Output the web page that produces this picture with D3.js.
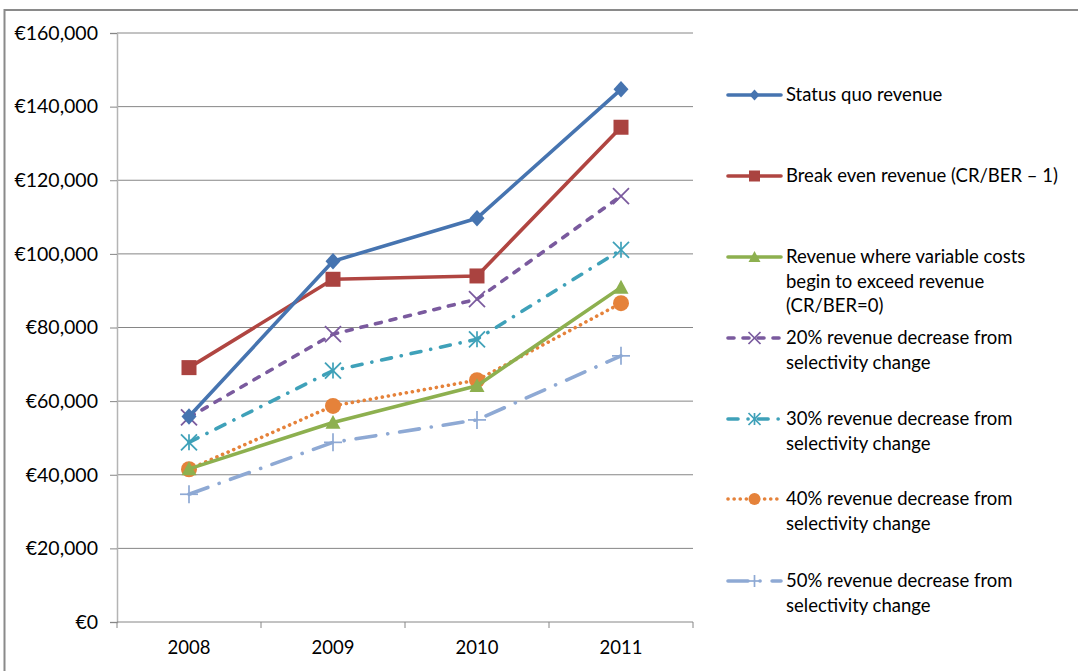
<!DOCTYPE html>
<html>
<head>
<meta charset="utf-8">
<script src="https://cdn.jsdelivr.net/npm/d3@7"></script>
<style>
  html, body { margin: 0; padding: 0; background: #fff; }
  svg text { font-family: Lato, "Open Sans", sans-serif; fill: #000; }
</style>
</head>
<body>
<svg id="chart" width="1078" height="671"></svg>
<script>
// Years on the category axis
const years = ["2008", "2009", "2010", "2011"];

// Revenue series (euro)
const statusQuo      = [55800, 98000, 109700, 144700];
const breakEven      = [69100, 93100, 94000, 134400];
const variableCosts  = [41600, 54200, 64200, 90900];
const decrease20     = [55600, 78200, 87700, 115700];
const decrease30     = [48800, 68300, 76800, 101100];
const decrease40     = [41500, 58700, 65700, 86600];
const decrease50     = [34700, 48800, 54900, 72300];

// Value-axis ticks
const yTicks = [0, 20000, 40000, 60000, 80000, 100000, 120000, 140000, 160000];

// Legend labels (one array entry per line of text)
const seriesNames = [
  ["Status quo revenue"],
  ["Break even revenue (CR/BER \u2013 1)"],
  ["Revenue where variable costs", "begin to exceed revenue", "(CR/BER=0)"],
  ["20% revenue decrease from", "selectivity change"],
  ["30% revenue decrease from", "selectivity change"],
  ["40% revenue decrease from", "selectivity change"],
  ["50% revenue decrease from", "selectivity change"]
];

const seriesValues = [statusQuo, breakEven, variableCosts, decrease20, decrease30, decrease40, decrease50];

// Per-series look
const styles = [
  { color: "#4674B0", dash: null,            cap: "round", marker: "diamond",  mcolor: "#4674B0" },
  { color: "#B04541", dash: null,            cap: "round", marker: "square",   mcolor: "#AA4340" },
  { color: "#8DB04F", dash: null,            cap: "round", marker: "triangle", mcolor: "#8DB04F" },
  { color: "#7A5A9E", dash: "6,9",           cap: "round", marker: "x",        mcolor: "#7A5A9E" },
  { color: "#3FA1B9", dash: "10,10,0.1,10",  cap: "round", marker: "star",     mcolor: "#3FA1B9" },
  { color: "#E5823A", dash: "0.1,6",         cap: "round", marker: "circle",   mcolor: "#E5823A" },
  { color: "#8EA9D4", dash: "20,12,0.1,12",  cap: "round", marker: "plus",     mcolor: "#8EA9D4" }
];

const svg = d3.select("#chart");

// Outer frame
svg.append("rect")
  .attr("x", 4.5).attr("y", 10).attr("width", 1100).attr("height", 700)
  .attr("fill", "none").attr("stroke", "#8A8A8A").attr("stroke-width", 2);

const plot = { left: 117, right: 693, top: 33, bottom: 622 };

const x = d3.scaleBand().domain(years).range([plot.left, plot.right]);
const xc = d => x(d) + x.bandwidth() / 2;
const y = d3.scaleLinear().domain([0, 160000]).range([plot.bottom, plot.top]);

// Horizontal gridlines
svg.append("g")
  .selectAll("line")
  .data(yTicks.filter(t => t > 0))
  .join("line")
  .attr("x1", plot.left).attr("x2", plot.right)
  .attr("y1", d => y(d)).attr("y2", d => y(d))
  .attr("stroke", "#868686").attr("stroke-width", 1);

// Y axis
const yAxis = svg.append("g")
  .attr("transform", `translate(${plot.left},0)`)
  .call(d3.axisLeft(y).tickValues(yTicks).tickSize(7).tickPadding(12)
    .tickFormat(d => "\u20AC" + d3.format(",")(d)));
yAxis.select(".domain").attr("stroke", "#B4B4B4").attr("stroke-width", 1.5);
yAxis.selectAll(".tick line").attr("stroke", "#868686");
yAxis.selectAll(".tick text").attr("font-size", 19.5).attr("font-family", "Lato, sans-serif").attr("fill", "#000");

// X axis with tick marks on band edges
const xAxis = svg.append("g")
  .attr("transform", `translate(0,${plot.bottom})`);
xAxis.append("line")
  .attr("x1", plot.left).attr("x2", plot.right)
  .attr("stroke", "#868686").attr("stroke-width", 1);
const edges = years.map(d => x(d)).concat([x(years[years.length - 1]) + x.bandwidth()]);
xAxis.selectAll("line.edge")
  .data(edges)
  .join("line")
  .attr("class", "edge")
  .attr("x1", d => d).attr("x2", d => d)
  .attr("y1", 0).attr("y2", 6)
  .attr("stroke", "#868686");
xAxis.selectAll("text")
  .data(years)
  .join("text")
  .attr("x", d => xc(d))
  .attr("y", 32)
  .attr("text-anchor", "middle")
  .attr("font-size", 18.5)
  .text(d => d);

// Marker drawing
function drawMarker(g, type, cx, cy, color, s) {
  const h = s / 2;
  if (type === "diamond") {
    g.append("path")
      .attr("d", `M${cx},${cy - h * 1.1}L${cx + h},${cy}L${cx},${cy + h * 1.1}L${cx - h},${cy}Z`)
      .attr("fill", color);
  } else if (type === "square") {
    g.append("rect")
      .attr("x", cx - h).attr("y", cy - h).attr("width", s).attr("height", s)
      .attr("fill", color);
  } else if (type === "triangle") {
    g.append("path")
      .attr("d", `M${cx},${cy - h}L${cx + h},${cy + h * 0.85}L${cx - h},${cy + h * 0.85}Z`)
      .attr("fill", color);
  } else if (type === "circle") {
    g.append("circle").attr("cx", cx).attr("cy", cy).attr("r", h).attr("fill", color);
  } else {
    const segs = [];
    if (type === "x" || type === "star") {
      segs.push([cx - h, cy - h, cx + h, cy + h], [cx - h, cy + h, cx + h, cy - h]);
    }
    if (type === "star") segs.push([cx, cy - h, cx, cy + h]);
    if (type === "plus") segs.push([cx - h, cy, cx + h, cy], [cx, cy - h, cx, cy + h]);
    g.selectAll(null)
      .data(segs)
      .join("line")
      .attr("x1", d => d[0]).attr("y1", d => d[1])
      .attr("x2", d => d[2]).attr("y2", d => d[3])
      .attr("stroke", color).attr("stroke-width", 1.7);
  }
}

const markerSize = { diamond: 15, square: 15, triangle: 15, x: 16, star: 16, circle: 16, plus: 18 };
const legendMarkerSize = { diamond: 10, square: 11, triangle: 12, x: 12, star: 12, circle: 12, plus: 12 };

const line = d3.line().x((d, i) => xc(years[i])).y(d => y(d));

// Series lines, drawn from the last series up so the first sits on top
const seriesG = svg.append("g");
for (let k = seriesValues.length - 1; k >= 0; k--) {
  const st = styles[k];
  const g = seriesG.append("g");
  g.append("path")
    .datum(seriesValues[k])
    .attr("d", line)
    .attr("fill", "none")
    .attr("stroke", st.color)
    .attr("stroke-width", 3.6)
    .attr("stroke-linecap", st.cap)
    .attr("stroke-linejoin", "round")
    .attr("stroke-dasharray", st.dash);
  seriesValues[k].forEach((v, i) => {
    drawMarker(g, st.marker, xc(years[i]), y(v), st.mcolor, markerSize[st.marker]);
  });
}

// Legend
const legendRows = [95, 176, 257, 338, 419, 499, 581];
const lineH = 24.5;
const legend = svg.append("g");
seriesNames.forEach((names, k) => {
  const st = styles[k];
  const cy = legendRows[k];
  const g = legend.append("g");
  g.append("line")
    .attr("x1", 728).attr("x2", 781)
    .attr("y1", cy).attr("y2", cy)
    .attr("stroke", st.color)
    .attr("stroke-width", 3.6)
    .attr("stroke-linecap", st.cap)
    .attr("stroke-dasharray", st.dash);
  drawMarker(g, st.marker, 754.5, cy, st.mcolor, legendMarkerSize[st.marker]);
  names.forEach((t, j) => {
    g.append("text")
      .attr("x", 786)
      .attr("y", cy + j * lineH)
      .attr("dy", "0.35em")
      .attr("font-size", 18.5)
      .text(t);
  });
});
</script>
</body>
</html>
